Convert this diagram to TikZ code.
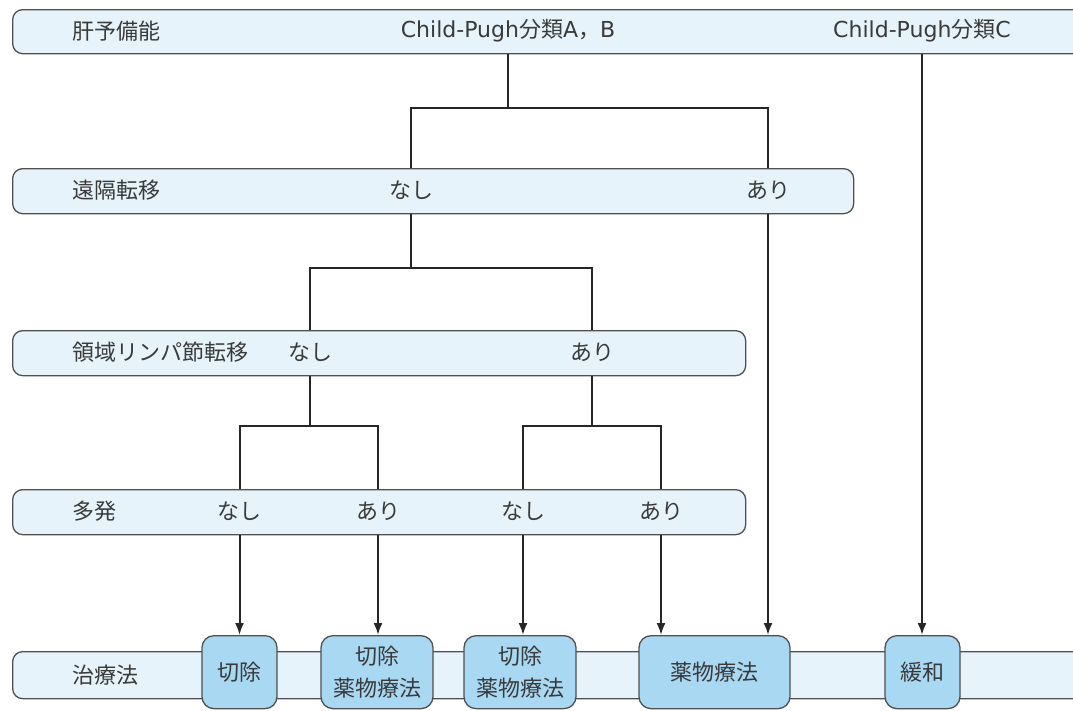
\documentclass[tikz,border=0pt]{standalone}
\usepackage{fontspec}
\setmainfont{DejaVu Sans}
\newfontfamily\jp{Noto Sans CJK JP}
\usetikzlibrary{arrows.meta}
\definecolor{barfill}{HTML}{E6F3FB}
\definecolor{boxfill}{HTML}{A8D8F2}
\definecolor{edge}{HTML}{505050}
\definecolor{txt}{HTML}{3A3A3A}
\begin{document}
\begin{tikzpicture}[x=1pt,y=-1pt,
  bar/.style={draw=edge, line width=1.3pt, fill=barfill, rounded corners=10pt, anchor=north west, inner sep=0pt},
  lab/.style={text=txt, font=\fontsize{22}{26}\selectfont\jp, inner sep=0pt},
  tbox/.style={draw=edge, line width=1.3pt, fill=boxfill, rounded corners=12pt, minimum height=73pt, anchor=north, inner sep=0pt, align=center, text=txt, font=\fontsize{22}{32}\selectfont\jp},
  conn/.style={line width=2pt, black!85},
  arr/.style={conn, -{Latex[length=12pt,width=9pt]}}]
\useasboundingbox (0,0) rectangle (1073,710);
\clip (0,0) rectangle (1073,710);
% bars
\node[bar, minimum width=1100pt, minimum height=44pt] (r1) at (12,9) {};
\node[bar, minimum width=841pt, minimum height=45pt] (r2) at (12,168) {};
\node[bar, minimum width=733pt, minimum height=45pt] (r3) at (12,330) {};
\node[bar, minimum width=733pt, minimum height=45pt] (r4) at (12,489) {};
\node[bar, minimum width=1100pt, minimum height=47pt] (r5) at (12,651) {};
% labels
\node[lab, anchor=west] (l1) at (72,31) {肝予備能};
\node[lab] (c1) at (508,31) {{\rmfamily Child-Pugh}分類{\rmfamily A}，{\rmfamily B}};
\node[lab] (c2) at (922,31) {{\rmfamily Child-Pugh}分類{\rmfamily C}};
\node[lab, anchor=west] (l2) at (72,190.5) {遠隔転移};
\node[lab] (n2) at (411,190.5) {なし};
\node[lab] (a2) at (768,190.5) {あり};
\node[lab, anchor=west] (l3) at (72,352.5) {領域リンパ節転移};
\node[lab] (n3) at (310,352.5) {なし};
\node[lab] (a3) at (592,352.5) {あり};
\node[lab, anchor=west] (l4) at (72,511.5) {多発};
\node[lab] (n4a) at (239.5,511.5) {なし};
\node[lab] (a4a) at (378,511.5) {あり};
\node[lab] (n4b) at (523,511.5) {なし};
\node[lab] (a4b) at (661,511.5) {あり};
\node[lab, anchor=west] (l5) at (72,675) {治療法};
% treatment boxes
\node[tbox, minimum width=75pt] (t1) at (239.5,635) {切除};
\node[tbox, minimum width=112pt] (t2) at (377,635) {切除\\薬物療法};
\node[tbox, minimum width=112pt] (t3) at (520,635) {切除\\薬物療法};
\node[tbox, minimum width=151pt] (t4) at (714.5,635) {薬物療法};
\node[tbox, minimum width=75pt] (t5) at (922.5,635) {緩和};
% tree connectors
\coordinate (j1) at (508,108);
\draw[conn] (c1 |- r1.south) -- (j1);
\draw[conn] (r2.north -| n2) |- (j1 -| a2) -- (r2.north -| a2);
\coordinate (j2) at (411,268);
\draw[conn] (n2 |- r2.south) -- (j2);
\draw[conn] (r3.north -| n3) |- (j2 -| a3) -- (r3.north -| a3);
\coordinate (j3) at (310,426);
\coordinate (j4) at (592,426);
\draw[conn] (n3 |- r3.south) -- (j3);
\draw[conn] (r4.north -| n4a) |- (j3 -| a4a) -- (r4.north -| a4a);
\draw[conn] (a3 |- r3.south) -- (j4);
\draw[conn] (r4.north -| n4b) |- (j4 -| a4b) -- (r4.north -| a4b);
% arrows
\draw[arr] (r4.south -| n4a) -- (t1.north);
\draw[arr] (r4.south -| a4a) -- (a4a |- t2.north);
\draw[arr] (r4.south -| n4b) -- (n4b |- t3.north);
\draw[arr] (r4.south -| a4b) -- (a4b |- t4.north);
\draw[arr] (r2.south -| a2) -- (a2 |- t4.north);
\draw[arr] (r1.south -| c2) -- (c2 |- t5.north);
\end{tikzpicture}
\end{document}
